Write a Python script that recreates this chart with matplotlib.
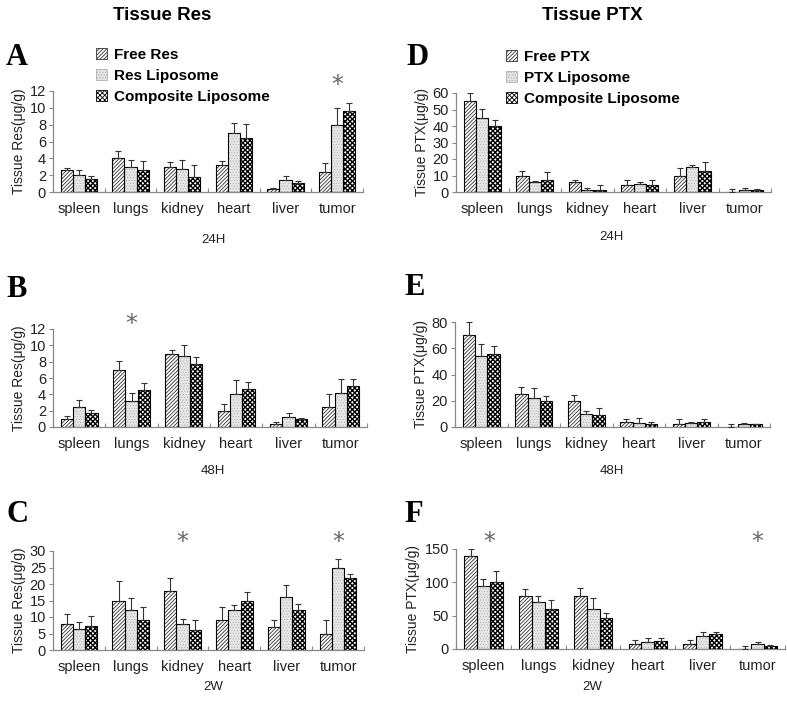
import matplotlib
matplotlib.use("Agg")
import matplotlib.pyplot as plt
from matplotlib.patches import Patch
import numpy as np

plt.rcParams['font.family'] = ['Liberation Sans', 'DejaVu Sans']
plt.rcParams['hatch.linewidth'] = 0.6

organs = ["spleen", "lungs", "kidney", "heart", "liver", "tumor"]

# Res, 24H
res24_free = [2.6, 4.0, 3.0, 3.2, 0.35, 2.4]
res24_free_err = [0.2, 0.9, 0.6, 0.5, 0.15, 1.1]
res24_lipo = [2.0, 3.0, 2.7, 7.0, 1.45, 8.0]
res24_lipo_err = [0.6, 0.8, 1.1, 1.2, 0.4, 2.0]
res24_comp = [1.5, 2.6, 1.8, 6.4, 1.1, 9.6]
res24_comp_err = [0.4, 1.1, 1.4, 1.7, 0.2, 1.0]

# Res, 48H
res48_free = [1.0, 7.0, 9.0, 2.0, 0.4, 2.5]
res48_free_err = [0.4, 1.1, 0.4, 0.8, 0.2, 1.6]
res48_lipo = [2.4, 3.2, 8.7, 4.0, 1.2, 4.2]
res48_lipo_err = [0.9, 1.0, 1.4, 1.7, 0.5, 1.7]
res48_comp = [1.7, 4.5, 7.7, 4.6, 1.0, 5.0]
res48_comp_err = [0.4, 0.9, 0.9, 0.9, 0.05, 0.9]

# Res, 2W
res2w_free = [8, 15, 18, 9, 7, 5]
res2w_free_err = [2.8, 5.8, 3.8, 4.0, 2.0, 4.0]
res2w_lipo = [6.5, 12, 8, 12, 16, 25]
res2w_lipo_err = [1.9, 3.8, 1.5, 1.7, 3.8, 2.7]
res2w_comp = [7.3, 9, 6, 14.8, 12, 21.8]
res2w_comp_err = [3.0, 4.0, 3.0, 2.8, 2.0, 1.2]

# PTX, 24H
ptx24_free = [55, 10, 6, 4, 10, 0]
ptx24_free_err = [5, 2.5, 1.5, 3.5, 4.5, 2]
ptx24_lipo = [45, 6, 1.5, 5, 15, 1]
ptx24_lipo_err = [5.5, 0.5, 1, 1, 1.5, 1.5]
ptx24_comp = [40, 7.5, 1.5, 4.5, 13, 1]
ptx24_comp_err = [3.5, 4.5, 3, 2.5, 5, 0.8]

# PTX, 48H
ptx48_free = [70, 25, 20, 4, 2, 0]
ptx48_free_err = [10, 5.5, 4.5, 2, 4, 2]
ptx48_lipo = [54, 22, 10, 3, 3, 2]
ptx48_lipo_err = [9, 8, 2.5, 4, 0.5, 1]
ptx48_comp = [55.5, 20, 9, 2, 3.5, 2]
ptx48_comp_err = [6.5, 4, 5.5, 2, 2.5, 0.5]

# PTX, 2W
ptx2w_free = [140, 80, 80, 8, 8, 0]
ptx2w_free_err = [10, 10, 12, 6, 6, 4]
ptx2w_lipo = [95, 70, 60, 10, 20, 8]
ptx2w_lipo_err = [10, 9, 16, 6, 6, 3]
ptx2w_comp = [100, 60, 46, 12, 22, 5]
ptx2w_comp_err = [17, 14, 8, 4, 4, 1]

res_names = ["Free Res", "Res Liposome", "Composite Liposome"]
ptx_names = ["Free PTX", "PTX Liposome", "Composite Liposome"]

styles = [
    dict(face="white", hatch="/" * 9, hcolor="#333333", hlw=0.6),
    dict(face="#e6e6e6", hatch="." * 6, hcolor="#b0b0b0", hlw=0.4),
    dict(face="white", hatch="x" * 7, hcolor="black", hlw=1.0),
]

fig = plt.figure(figsize=(7.87, 7.03), dpi=100)
W, H = 787, 703


def axes_px(x0, x1, ytop, ybot):
    return fig.add_axes([x0 / W, 1 - ybot / H, (x1 - x0) / W, (ybot - ytop) / H])


def panel(ax, series, errs, ymax, ystep, ylabel, stars):
    x = np.arange(len(organs))
    w = 0.235
    for k, (vals, err, st) in enumerate(zip(series, errs, styles)):
        pos = x + (k - 1) * w
        with plt.rc_context({"hatch.linewidth": st["hlw"]}):
            ax.bar(pos, vals, w, color=st["face"], hatch=st["hatch"],
                   edgecolor=st["hcolor"], linewidth=0, zorder=2)
        ax.bar(pos, vals, w, fill=False, edgecolor="black", linewidth=0.8, zorder=3)
        ax.errorbar(pos, vals, yerr=[np.zeros(len(vals)), err], fmt="none",
                    ecolor="#333333", elinewidth=0.8, capsize=2.5, capthick=0.8, zorder=4)
    ax.set_xlim(-0.5, len(organs) - 0.5)
    ax.set_ylim(0, ymax)
    ax.set_yticks(np.arange(0, ymax + 0.1, ystep))
    ax.set_xticks(np.arange(-0.5, len(organs), 1.0))
    ax.set_xticklabels([])
    ax.set_xticks(x, minor=True)
    ax.set_xticklabels(organs, minor=True, fontsize=10.5, color="#222222")
    ax.tick_params(axis="x", which="major", direction="in", length=3, color="#888888")
    ax.tick_params(axis="x", which="minor", length=0, pad=7)
    ax.tick_params(axis="y", direction="out", length=3, color="#888888",
                   labelsize=10.5, labelcolor="#222222", pad=2)
    for s in ["top", "right"]:
        ax.spines[s].set_visible(False)
    for s in ["left", "bottom"]:
        ax.spines[s].set_color("#888888")
        ax.spines[s].set_linewidth(0.9)
    ax.set_ylabel(ylabel, fontsize=10, color="#222222", labelpad=3)
    for i, yv in stars:
        ax.text(i, yv, "*", ha="center", va="center", fontsize=17,
                color="#666666", family="DejaVu Sans", clip_on=False)


def legend(names, x, y):
    handles = []
    for st in styles:
        with plt.rc_context({"hatch.linewidth": st["hlw"]}):
            handles.append(Patch(facecolor=st["face"], hatch=st["hatch"],
                                 edgecolor=st["hcolor"], linewidth=0.6))
    fig.legend(handles, names, loc="upper left", bbox_to_anchor=(x / W, 1 - y / H),
               frameon=False, borderpad=0, borderaxespad=0, handlelength=0.7,
               handleheight=0.7, handletextpad=0.45, labelspacing=0.45,
               prop=dict(weight="bold", size=11))


axA = axes_px(53, 363, 91, 192)
panel(axA, [res24_free, res24_lipo, res24_comp],
      [res24_free_err, res24_lipo_err, res24_comp_err], 12, 2,
      "Tissue Res(μg/g)", [(5, 12.7)])
axB = axes_px(53, 367, 329, 427)
panel(axB, [res48_free, res48_lipo, res48_comp],
      [res48_free_err, res48_lipo_err, res48_comp_err], 12, 2,
      "Tissue Res(μg/g)", [(1, 12.6)])
axC = axes_px(53, 364, 551, 650)
panel(axC, [res2w_free, res2w_lipo, res2w_comp],
      [res2w_free_err, res2w_lipo_err, res2w_comp_err], 30, 5,
      "Tissue Res(μg/g)", [(2, 32.7), (5, 32.7)])
axD = axes_px(456, 771, 93, 192)
panel(axD, [ptx24_free, ptx24_lipo, ptx24_comp],
      [ptx24_free_err, ptx24_lipo_err, ptx24_comp_err], 60, 10,
      "Tissue PTX(μg/g)", [])
axE = axes_px(455, 770, 322, 427)
panel(axE, [ptx48_free, ptx48_lipo, ptx48_comp],
      [ptx48_free_err, ptx48_lipo_err, ptx48_comp_err], 80, 20,
      "Tissue PTX(μg/g)", [])
axF = axes_px(456, 785, 549, 649)
panel(axF, [ptx2w_free, ptx2w_lipo, ptx2w_comp],
      [ptx2w_free_err, ptx2w_lipo_err, ptx2w_comp_err], 150, 50,
      "Tissue PTX(μg/g)", [(0.1, 160), (5, 160)])

legend(res_names, 96, 48)
legend(ptx_names, 506, 50)

# column titles
fig.text(162 / W, 1 - 16 / H, "Tissue Res", ha="center", va="center",
         fontsize=13.5, weight="bold")
fig.text(592 / W, 1 - 16 / H, "Tissue PTX", ha="center", va="center",
         fontsize=13.5, weight="bold")

# panel letters
for letter, lx, ly in [("A", 6, 65), ("B", 6, 297), ("C", 6, 522),
                       ("D", 406, 65), ("E", 404, 295), ("F", 404, 522)]:
    fig.text(lx / W, 1 - ly / H, letter, ha="left", va="baseline",
             fontsize=22, weight="bold", family="Liberation Serif")

# time points
for t, tx, ty in [("24H", 213, 240), ("48H", 213, 471), ("2W", 213, 687),
                  ("24H", 612, 237), ("48H", 612, 471), ("2W", 592, 687)]:
    fig.text(tx / W, 1 - ty / H, t, ha="center", va="center", fontsize=9.5,
             color="#222222")

fig.savefig("out.png", dpi=100)
